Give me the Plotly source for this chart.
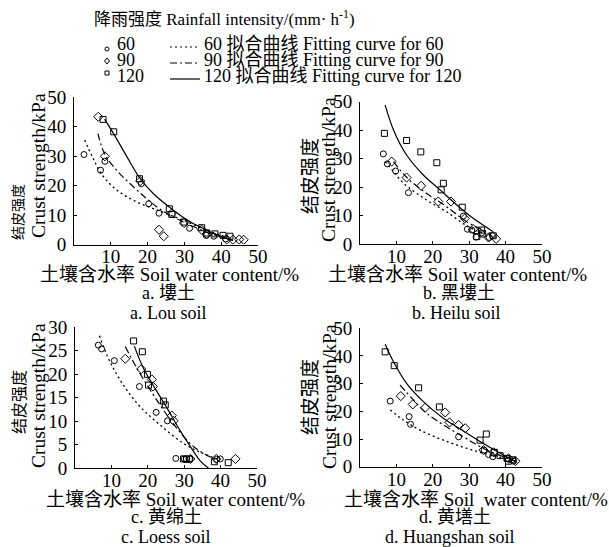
import plotly.graph_objects as go

W, H = 609, 547
FONT = "Liberation Serif, Noto Sans CJK SC, serif"

# ---------------- data ----------------
# a. Lou soil
a_sq120_x = [7.9, 10.8, 17.8, 25.9, 26.6, 29.9, 34.7, 36.1, 38.3, 40.5, 42.4]
a_sq120_y = [42.4, 38.2, 22.3, 12.1, 10.2, 7.6, 5.7, 3.9, 3.6, 3.1, 2.8]
a_ci60_x = [2.7, 7.2, 8.4, 18.3, 20.3, 23.1, 31.4, 35.9, 38.0, 41.2]
a_ci60_y = [30.5, 25.2, 28.2, 20.6, 13.8, 10.6, 5.5, 3.1, 2.8, 1.9]
a_di90_x = [6.6, 8.4, 18.0, 23.1, 24.4, 26.5, 29.9, 34.7, 36.1, 41.5, 43.2, 44.9, 46.1]
a_di90_y = [43.3, 29.9, 21.5, 5.0, 2.8, 10.5, 7.3, 5.0, 3.5, 1.7, 1.6, 1.7, 1.6]
a_fit120_x = [8.3, 10.8, 14.4, 17.8, 21.6, 26.1, 30.6, 34.7, 38.8, 43.2]
a_fit120_y = [42.5, 37.5, 29.7, 22.7, 17.2, 12.5, 8.4, 5.7, 3.3, 1.3]
a_fit90_x = [6.5, 8.4, 11.7, 16.2, 19.8, 23.0, 29.7, 36.1, 41.5]
a_fit90_y = [37.6, 30.5, 25.0, 19.5, 15.5, 12.3, 7.6, 4.2, 1.9]
a_fit60_x = [2.9, 5.0, 7.7, 11.7, 17.1, 23.4, 29.7, 36.1, 41.5]
a_fit60_y = [35.4, 29.7, 23.5, 18.4, 14.4, 11.3, 8.2, 4.8, 2.5]

# b. Heilu soil
b_sq120_x = [6.7, 12.8, 16.7, 21.1, 22.9, 22.3, 28.1, 33.4, 33.7, 32.1, 36.6]
b_sq120_y = [38.9, 36.4, 32.4, 28.6, 21.4, 19.1, 13.0, 5.0, 3.6, 2.7, 3.0]
b_ci60_x = [6.4, 7.5, 9.8, 13.3, 28.4, 29.5, 30.7, 31.9, 33.4, 35.5, 36.4]
b_ci60_y = [31.7, 28.2, 25.7, 18.1, 9.9, 5.3, 5.0, 2.5, 4.0, 2.4, 3.0]
b_di90_x = [8.7, 12.8, 16.8, 21.5, 25.0, 28.8, 31.1, 35.3, 37.4]
b_di90_y = [29.0, 23.4, 20.5, 15.0, 15.0, 9.1, 5.3, 2.4, 1.9]
b_fit120_x = [6.9, 9.2, 12.8, 17.4, 22.0, 26.6, 31.1, 36.6]
b_fit120_y = [48.9, 40.1, 31.3, 24.3, 19.1, 13.8, 9.1, 4.4]
b_fit90_x = [9.2, 12.8, 18.3, 23.8, 29.3, 35.7]
b_fit90_y = [29.0, 23.5, 17.8, 13.2, 7.9, 3.9]
b_fit60_x = [6.9, 9.2, 11.9, 18.3, 23.8, 29.3, 33.5]
b_fit60_y = [29.0, 25.5, 21.5, 15.5, 11.4, 6.5, 4.0]

# c. Loess soil
c_sq120_x = [16.1, 18.5, 19.9, 20.2, 24.3, 24.8, 29.8, 30.6, 31.4, 38.3, 42.1]
c_sq120_y = [27.1, 24.8, 20.0, 17.7, 14.3, 13.5, 2.0, 1.9, 2.0, 1.4, 1.2]
c_ci60_x = [6.4, 7.3, 10.8, 17.7, 22.3, 25.4, 27.7, 30.0, 30.6, 31.6, 38.9, 39.9]
c_ci60_y = [26.2, 25.4, 22.9, 17.4, 11.9, 10.1, 2.1, 2.0, 2.0, 2.0, 1.9, 2.0]
c_di90_x = [13.8, 18.2, 21.1, 21.4, 26.6, 27.1, 31.7, 38.8, 44.1]
c_di90_y = [23.3, 21.1, 18.9, 17.4, 11.2, 10.1, 2.0, 2.0, 2.0]
c_fit120_x = [16.3, 18.8, 22.0, 25.3, 28.5, 31.7, 34.4, 36.7]
c_fit120_y = [26.0, 21.3, 17.0, 12.8, 8.5, 4.6, 1.6, 0.0]
c_fit90_x = [13.8, 17.0, 20.7, 24.3, 28.0, 32.6, 37.2, 39.5]
c_fit90_y = [25.9, 21.3, 16.6, 12.4, 8.5, 4.6, 2.4, 1.8]
c_fit60_x = [6.7, 9.6, 13.3, 17.9, 23.4, 29.8, 34.4, 39.0]
c_fit60_y = [28.2, 22.7, 17.7, 13.1, 9.2, 5.3, 3.4, 2.0]

# d. Huangshan soil
d_sq120_x = [6.9, 9.4, 16.1, 21.8, 33.0, 34.7, 36.9, 38.5, 40.4, 40.8, 42.0]
d_sq120_y = [41.5, 36.5, 28.5, 21.6, 9.6, 11.8, 5.2, 4.0, 3.0, 2.0, 2.5]
d_ci60_x = [8.3, 13.5, 13.9, 27.1, 34.1, 35.3, 36.5, 40.4, 42.2]
d_ci60_y = [23.7, 18.1, 15.3, 10.8, 6.0, 4.4, 3.6, 3.0, 2.0]
d_di90_x = [11.2, 14.5, 17.9, 23.4, 24.6, 27.1, 28.9, 33.9, 36.7, 40.8, 42.7]
d_di90_y = [25.5, 22.5, 21.3, 19.6, 16.0, 15.1, 13.9, 6.0, 5.2, 3.0, 2.0]
d_fit120_x = [6.9, 9.2, 12.8, 17.4, 22.9, 28.4, 33.9, 39.4, 42.7]
d_fit120_y = [44.2, 37.9, 30.1, 23.5, 17.5, 12.9, 8.4, 4.2, 1.9]
d_fit90_x = [11.0, 14.7, 18.3, 22.9, 28.4, 33.9, 39.4, 42.7]
d_fit90_y = [29.5, 24.1, 19.3, 15.1, 10.8, 6.6, 3.6, 2.0]
d_fit60_x = [8.3, 11.9, 16.5, 22.9, 29.4, 35.8, 42.7]
d_fit60_y = [20.5, 16.9, 13.2, 9.6, 6.6, 4.2, 2.1]

x_ticks = [10, 20, 30, 40, 50]
y_ticks_50 = [0, 10, 20, 30, 40, 50]
y_ticks_30 = [0, 5, 10, 15, 20, 25, 30]

panels = [
    dict(ax="", sq=(a_sq120_x, a_sq120_y), ci=(a_ci60_x, a_ci60_y), di=(a_di90_x, a_di90_y),
         f120=(a_fit120_x, a_fit120_y), f90=(a_fit90_x, a_fit90_y), f60=(a_fit60_x, a_fit60_y),
         dom_x=(74, 258), dom_y=(97, 244.5), yr=50, yt=y_ticks_50),
    dict(ax="2", sq=(b_sq120_x, b_sq120_y), ci=(b_ci60_x, b_ci60_y), di=(b_di90_x, b_di90_y),
         f120=(b_fit120_x, b_fit120_y), f90=(b_fit90_x, b_fit90_y), f60=(b_fit60_x, b_fit60_y),
         dom_x=(360, 542), dom_y=(101.7, 244.3), yr=50, yt=y_ticks_50),
    dict(ax="3", sq=(c_sq120_x, c_sq120_y), ci=(c_ci60_x, c_ci60_y), di=(c_di90_x, c_di90_y),
         f120=(c_fit120_x, c_fit120_y), f90=(c_fit90_x, c_fit90_y), f60=(c_fit60_x, c_fit60_y),
         dom_x=(75, 257), dom_y=(327.3, 468.3), yr=30, yt=y_ticks_30),
    dict(ax="4", sq=(d_sq120_x, d_sq120_y), ci=(d_ci60_x, d_ci60_y), di=(d_di90_x, d_di90_y),
         f120=(d_fit120_x, d_fit120_y), f90=(d_fit90_x, d_fit90_y), f60=(d_fit60_x, d_fit60_y),
         dom_x=(360, 542), dom_y=(328.3, 466.7), yr=50, yt=y_ticks_50),
]

DASH60 = "2px,3px"
DASH90 = "7px,3px,2px,3px"


def PX(px):
    return px / W


def PY(py):
    return 1 - py / H


fig = go.Figure()
layout = {}
for p in panels:
    xa, ya = "x" + p["ax"], "y" + p["ax"]
    fig.add_trace(go.Scatter(x=p["f60"][0], y=p["f60"][1], mode="lines", xaxis=xa, yaxis=ya,
                             line=dict(color="black", width=1.3, dash=DASH60, shape="spline")))
    fig.add_trace(go.Scatter(x=p["f90"][0], y=p["f90"][1], mode="lines", xaxis=xa, yaxis=ya,
                             line=dict(color="black", width=1.2, dash=DASH90, shape="spline")))
    fig.add_trace(go.Scatter(x=p["f120"][0], y=p["f120"][1], mode="lines", xaxis=xa, yaxis=ya,
                             line=dict(color="black", width=1.2, shape="spline")))
    fig.add_trace(go.Scatter(x=p["ci"][0], y=p["ci"][1], mode="markers", xaxis=xa, yaxis=ya,
                             marker=dict(symbol="circle-open", size=6, color="black", line=dict(width=1))))
    fig.add_trace(go.Scatter(x=p["di"][0], y=p["di"][1], mode="markers", xaxis=xa, yaxis=ya,
                             marker=dict(symbol="diamond-open", size=7, color="black", line=dict(width=1))))
    fig.add_trace(go.Scatter(x=p["sq"][0], y=p["sq"][1], mode="markers", xaxis=xa, yaxis=ya,
                             marker=dict(symbol="square-open", size=6, color="black", line=dict(width=1))))
    key = p["ax"]
    layout["xaxis" + key] = dict(
        domain=[PX(p["dom_x"][0]), PX(p["dom_x"][1])], range=[0, 50], anchor=ya,
        tickvals=x_ticks, ticktext=[str(v) for v in x_ticks], showgrid=False, zeroline=False,
        showline=True, linecolor="black", linewidth=1, ticks="inside", ticklen=3, tickcolor="black",
        automargin=False, ticklabelstandoff=-5,
        tickfont=dict(family=FONT, size=19, color="black"))
    layout["yaxis" + key] = dict(
        domain=[PY(p["dom_y"][1]), PY(p["dom_y"][0])], range=[0, p["yr"]], anchor=xa,
        tickvals=p["yt"], ticktext=[str(v) for v in p["yt"]], showgrid=False, zeroline=False,
        showline=True, linecolor="black", linewidth=1, ticks="inside", ticklen=3, tickcolor="black",
        automargin=False, ticklabelstandoff=3,
        tickfont=dict(family=FONT, size=19, color="black"))

ann = []


def text(t, px, py, size=18, angle=0, xanchor="center"):
    ann.append(dict(text=t, x=PX(px), y=PY(py), xref="paper", yref="paper", showarrow=False,
                    xanchor=xanchor, yanchor="middle", textangle=angle,
                    font=dict(family=FONT, size=size, color="black")))


# axis titles
text("土壤含水率 Soil water content/%", 169, 274, size=19)
text("土壤含水率 Soil water content/%", 457, 274, size=19)
text("土壤含水率 Soil water content/%", 175, 499, size=19)
text("土壤含水率 Soil&nbsp; water content/%", 476, 499, size=19)
# panel captions
text("a. 塿土", 168, 293)
text("a. Lou soil", 168, 313)
text("b. 黑塿土", 459, 293)
text("b. Heilu soil", 456, 313)
text("c. 黄绵土", 166, 517)
text("c. Loess soil", 166, 537)
text("d. 黄墡土", 455, 517)
text("d. Huangshan soil", 450, 537)
# y titles
for (xa, xb, yc1, yc2, s) in [(19, 38, 212, 166, 14), (310, 329, 176, 170, 19),
                              (19, 38, 402, 396, 16), (310, 329, 397, 397, 19)]:
    text("结皮强度", xa, yc1, size=s, angle=-90)
    text("Crust strength/kPa", xb, yc2, size=19.5, angle=-90)

# legend
text("降雨强度 Rainfall intensity/(mm· h<sup>-1</sup>)", 224, 18, size=17)
leg_labels = ["60", "90", "120"]
leg_texts = ["60 拟合曲线 Fitting curve for 60", "90 拟合曲线 Fitting curve for 90",
             "120 拟合曲线 Fitting curve for 120"]
row_y = [44, 60, 76]
for lab, t, ry in zip(leg_labels, leg_texts, row_y):
    text(lab, 115, ry, size=18, xanchor="left")
    text(t, 202, ry, size=18, xanchor="left")

shapes = []
dashes = [DASH60, DASH90, "solid"]
for d, ry in zip(dashes, row_y):
    shapes.append(dict(type="line", xref="paper", yref="paper", x0=PX(170), x1=PX(200),
                       y0=PY(ry + 3), y1=PY(ry + 3), line=dict(color="black", width=1.2, dash=d)))
# legend marker samples
mx = 107
shapes.append(dict(type="circle", xref="paper", yref="paper", x0=PX(mx - 2), x1=PX(mx + 2),
                   y0=PY(49 + 2), y1=PY(49 - 2), line=dict(color="black", width=1)))
shapes.append(dict(type="path", xref="paper", yref="paper",
                   path="M {} {} L {} {} L {} {} L {} {} Z".format(
                       PX(mx), PY(58), PX(mx + 2.5), PY(61), PX(mx), PY(64), PX(mx - 2.5), PY(61)),
                   line=dict(color="black", width=1)))
shapes.append(dict(type="rect", xref="paper", yref="paper", x0=PX(mx - 2), x1=PX(mx + 2),
                   y0=PY(75), y1=PY(71), line=dict(color="black", width=1)))

fig.update_layout(
    template="none",
    width=W, height=H, autosize=False,
    margin=dict(l=0, r=0, t=0, b=0, pad=0, autoexpand=False),
    paper_bgcolor="white", plot_bgcolor="white", showlegend=False,
    font=dict(family=FONT, color="black"), annotations=ann, shapes=shapes, **layout)

fig.write_html("out.html",
               config={"displayModeBar": False, "staticPlot": True},
               post_script="document.body.style.margin='0px';document.body.style.overflow='hidden';")
